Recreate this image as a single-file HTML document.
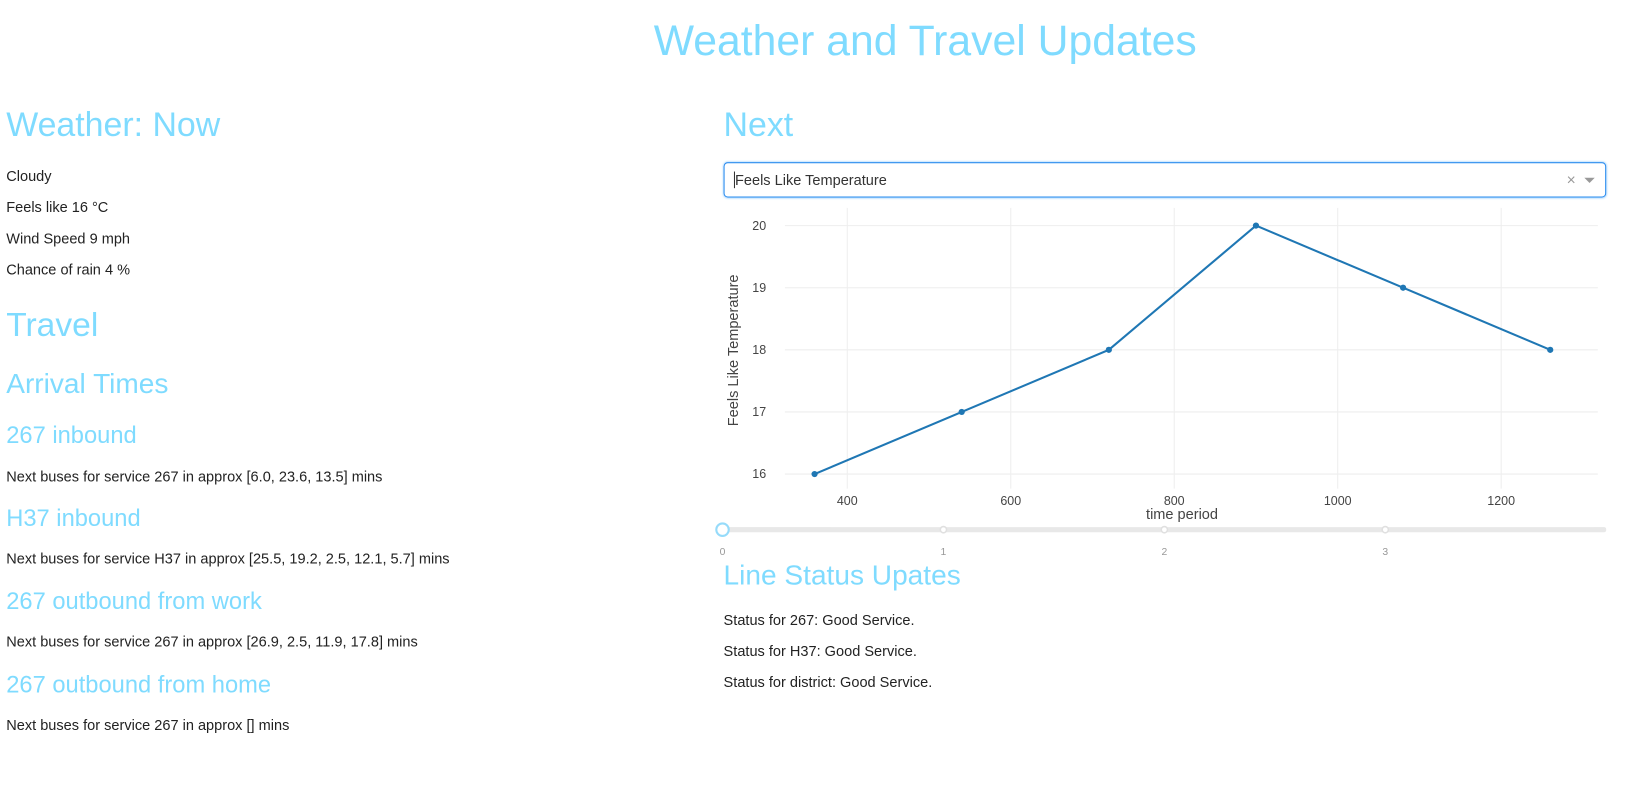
<!DOCTYPE html>
<html><head><meta charset="utf-8">
<style>
body{margin:0;width:1630px;height:803px;background:#fff;font-family:"Liberation Sans",Arial,sans-serif;overflow:hidden;color:#222}
#wrap{position:relative;width:1568px;height:772px;transform:scale(1.0396);transform-origin:0 0}
.a{position:absolute;white-space:nowrap}
.h{color:#7fdbff}
.t{font-size:14px;line-height:20px}
</style></head><body>
<div id="wrap">
<div class="a h" style="left:0;width:1780px;text-align:center;top:13px;font-size:41.1px;line-height:52px">Weather and Travel Updates</div>

<div class="a h" style="left:6px;top:99px;font-size:32.6px;line-height:42px">Weather: Now</div>
<div class="a t" style="left:6px;top:159px">Cloudy</div>
<div class="a t" style="left:6px;top:189px">Feels like 16 °C</div>
<div class="a t" style="left:6px;top:219px">Wind Speed 9 mph</div>
<div class="a t" style="left:6px;top:249px">Chance of rain 4 %</div>
<div class="a h" style="left:6px;top:291px;font-size:32.3px;line-height:42px">Travel</div>
<div class="a h" style="left:6px;top:352px;font-size:27px;line-height:34px">Arrival Times</div>
<div class="a h" style="left:6px;top:403px;font-size:22.8px;line-height:30px">267 inbound</div>
<div class="a t" style="left:6px;top:448px">Next buses for service 267 in approx [6.0, 23.6, 13.5] mins</div>
<div class="a h" style="left:6px;top:483px;font-size:22.8px;line-height:30px">H37 inbound</div>
<div class="a t" style="left:6px;top:527px">Next buses for service H37 in approx [25.5, 19.2, 2.5, 12.1, 5.7] mins</div>
<div class="a h" style="left:6px;top:563px;font-size:22.8px;line-height:30px">267 outbound from work</div>
<div class="a t" style="left:6px;top:607px">Next buses for service 267 in approx [26.9, 2.5, 11.9, 17.8] mins</div>
<div class="a h" style="left:6px;top:643px;font-size:22.8px;line-height:30px">267 outbound from home</div>
<div class="a t" style="left:6px;top:687px">Next buses for service 267 in approx [] mins</div>

<div class="a h" style="left:696px;top:99px;font-size:32.6px;line-height:42px">Next</div>
<div class="a" style="left:696px;top:156px;width:847px;height:32px;border:1px solid #2b8cee;border-radius:4px;box-shadow:0 0 2px #7fc2ff">
 <span class="a" style="left:9px;top:8px;font-size:14px;color:#333;border-left:1px solid #333">Feels Like Temperature</span>
 <span class="a" style="left:810px;top:8px;font-size:15px;color:#999">×</span>
 <span class="a" style="left:827px;top:14px;width:0;height:0;border-left:5px solid transparent;border-right:5px solid transparent;border-top:5px solid #999"></span>
</div>

<svg class="a" style="left:0;top:0" width="1568" height="772" id="chart"></svg>

<div class="a h" style="left:696px;top:536px;font-size:27px;line-height:34px">Line Status Upates</div>
<div class="a t" style="left:696px;top:586px">Status for 267: Good Service.</div>
<div class="a t" style="left:696px;top:616px">Status for H37: Good Service.</div>
<div class="a t" style="left:696px;top:646px">Status for district: Good Service.</div>
</div>
<script>
const xValues=[360,540,720,900,1080,1260];
const yValues=[16,17,18,20,19,18];
const xTicks=[400,600,800,1000,1200];
const yTicks=[16,17,18,19,20];
const sliderMarks=[0,1,2,3];
const NS="http://www.w3.org/2000/svg";
const svg=document.getElementById('chart');
const sx=v=>815+(v-400)*(1444-815)/800;
const sy=v=>217+(20-v)*(456-217)/4;
function mk(t,a,p){const e=document.createElementNS(NS,t);for(const k in a)e.setAttribute(k,a[k]);(p||svg).appendChild(e);return e;}
const L=755,R=1537,T=200,B=470;
xTicks.forEach(v=>{
 const g=mk('line',{x1:sx(v),x2:sx(v),y1:T,y2:B,stroke:'#eee'});
 
 
 const t=mk('text',{x:sx(v),y:486,'font-size':12,'text-anchor':'middle',fill:'#444','font-family':'Liberation Sans'});
 t.textContent=v;
 
 
});
yTicks.forEach(v=>{
 const g=mk('line',{x1:L,x2:R,y1:sy(v),y2:sy(v),stroke:'#eee'});
 
 
 const t=mk('text',{x:737,y:sy(v)+4,'font-size':12,'text-anchor':'end',fill:'#444','font-family':'Liberation Sans'});
 t.textContent=v;
 
 
});
const xt=mk('text',{x:1137,y:499,'font-size':14,'text-anchor':'middle',fill:'#444','font-family':'Liberation Sans'});
xt.textContent='time period';


const yt=mk('text',{x:0,y:0,'font-size':14,'text-anchor':'middle',fill:'#444','font-family':'Liberation Sans',transform:'translate(710,337) rotate(-90)'});
yt.textContent='Feels Like Temperature';


const line=mk('polyline',{points:xValues.map((x,i)=>sx(x)+','+sy(yValues[i])).join(' '),fill:'none',stroke:'#1f77b4','stroke-width':2});


xValues.forEach((x,i)=>{
 const c=mk('circle',{cx:sx(x),cy:sy(yValues[i]),r:3,fill:'#1f77b4'});
 
 
});
const tr=mk('rect',{x:695,y:507,width:850,height:5,rx:2,fill:'#e8e8e8'});


const sp=v=>695+v*212.5;
sliderMarks.forEach(v=>{
 if(v>0){const d=mk('circle',{cx:sp(v),cy:509.5,r:3,fill:'#fff',stroke:'#e0e0e0','stroke-width':1.5});
 
 }
 const t=mk('text',{x:sp(v),y:534,'font-size':10,'text-anchor':'middle',fill:'#999','font-family':'Liberation Sans'});
 t.textContent=v;
 
 
});
const h=mk('circle',{cx:sp(0),cy:509.5,r:6,fill:'#fff',stroke:'#96dbfa','stroke-width':2});


</script>
</body></html>
